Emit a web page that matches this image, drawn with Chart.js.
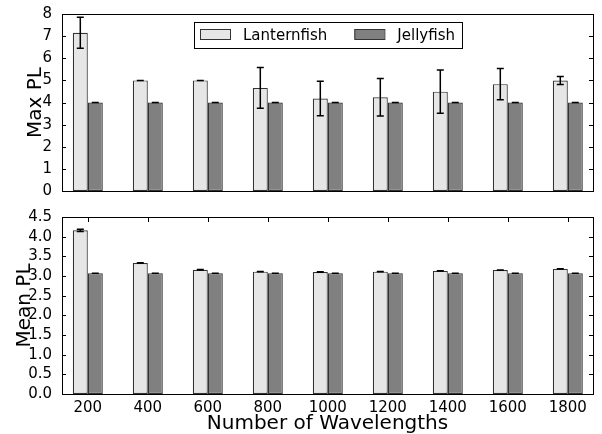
<!DOCTYPE html>
<html>
<head>
<meta charset="utf-8">
<script src="https://cdn.jsdelivr.net/npm/chart.js@4.4.0/dist/chart.umd.min.js"></script>
<style>
    html, body { margin: 0; padding: 0; background: #fff; }
    #topBox { position: absolute; left: 0; top: 0; width: 602px; height: 200px; }
    #bottomBox { position: absolute; left: 0; top: 200px; width: 602px; height: 234px; }
</style>
</head>
<body>
<div id="topBox"><canvas id="maxChart" width="602" height="200"></canvas></div>
<div id="bottomBox"><canvas id="meanChart" width="602" height="234"></canvas></div>
<script>
// data
const wavelengths = [200, 400, 600, 800, 1000, 1200, 1400, 1600, 1800]
const seriesNames = ['Lanternfish', 'Jellyfish']

const maxLantern = [7.15, 5.0, 5.0, 4.66, 4.18, 4.24, 4.49, 4.83, 4.99]
const maxLanternErr = [0.70, 0, 0, 0.92, 0.78, 0.85, 0.98, 0.71, 0.18]
const maxJelly = [4.0, 4.0, 4.0, 4.0, 4.0, 4.0, 4.0, 4.0, 4.0]
const maxJellyErr = [0, 0, 0, 0, 0, 0, 0, 0, 0]

const meanLantern = [4.16, 3.33, 3.16, 3.11, 3.10, 3.11, 3.13, 3.15, 3.18]
const meanLanternErr = [0.03, 0.005, 0.005, 0.005, 0.005, 0.005, 0.005, 0.005, 0.005]
const meanJelly = [3.07, 3.07, 3.07, 3.07, 3.07, 3.07, 3.07, 3.07, 3.07]
const meanJellyErr = [0, 0, 0, 0, 0, 0, 0, 0, 0]

const maxTicks = [0, 1, 2, 3, 4, 5, 6, 7, 8]
const meanTicks = [0, 0.5, 1.0, 1.5, 2.0, 2.5, 3.0, 3.5, 4.0, 4.5]

const colors = ['#e6e6e6', '#808080']

Chart.defaults.font.family = "'DejaVu Sans', sans-serif"
Chart.defaults.color = '#000'

function toPoints(values) {
    return values.map((v, i) => ({ x: i, y: v }))
}

function makeDatasets(lantern, lanternErr, jelly, jellyErr) {
    return [
        { label: seriesNames[0], data: toPoints(lantern), errors: lanternErr, backgroundColor: colors[0] },
        { label: seriesNames[1], data: toPoints(jelly), errors: jellyErr, backgroundColor: colors[1] }
    ].map(ds => Object.assign(ds, {
        borderColor: '#333',
        borderWidth: 1.2,
        borderSkipped: false,
        categoryPercentage: 0.5,
        barPercentage: 1.0
    }))
}

// error bars on top of the bars
const errorBars = {
    id: 'errorBars',
    afterDatasetsDraw(chart) {
        const ctx = chart.ctx
        const y = chart.scales.y
        ctx.save()
        ctx.strokeStyle = '#000'
        ctx.lineWidth = 1.5
        chart.data.datasets.forEach((ds, i) => {
            chart.getDatasetMeta(i).data.forEach((bar, j) => {
                const v = ds.data[j].y
                const e = ds.errors[j]
                const top = y.getPixelForValue(v + e)
                const bot = y.getPixelForValue(v - e)
                ctx.beginPath()
                ctx.moveTo(bar.x, top)
                ctx.lineTo(bar.x, bot)
                ctx.moveTo(bar.x - 3.5, top)
                ctx.lineTo(bar.x + 3.5, top)
                ctx.moveTo(bar.x - 3.5, bot)
                ctx.lineTo(bar.x + 3.5, bot)
                ctx.stroke()
            })
        })
        ctx.restore()
    }
}

// matplotlib like frame with inward ticks
const frame = {
    id: 'frame',
    afterDraw(chart, args, opts) {
        const ctx = chart.ctx
        const a = chart.chartArea
        ctx.save()
        ctx.strokeStyle = '#000'
        ctx.lineWidth = 1
        ctx.strokeRect(Math.round(a.left) + 0.5, Math.round(a.top) + 0.5,
            Math.round(a.right - a.left), Math.round(a.bottom - a.top))
        ctx.beginPath()
        chart.scales.y.ticks.forEach(t => {
            const py = Math.round(chart.scales.y.getPixelForValue(t.value)) + 0.5
            ctx.moveTo(a.left, py)
            ctx.lineTo(a.left + 4, py)
            ctx.moveTo(a.right, py)
            ctx.lineTo(a.right - 4, py)
        })
        if (opts.topTicks) {
            chart.scales.x.ticks.forEach(t => {
                const px = Math.round(chart.scales.x.getPixelForValue(t.value)) + 0.5
                ctx.moveTo(px, a.top)
                ctx.lineTo(px, a.top + 5)
            })
        }
        ctx.stroke()
        ctx.restore()
    }
}

// legend box inside the top axes
const boxLegend = {
    id: 'boxLegend',
    afterDraw(chart, args, opts) {
        if (!opts.show) return
        const ctx = chart.ctx
        ctx.save()
        ctx.font = "15px 'DejaVu Sans'"
        ctx.textBaseline = 'alphabetic'
        const left = 194, top = 22, h = 26
        let x = left + 6
        const items = chart.data.datasets.map((ds, i) => {
            const item = { x: x, label: ds.label, color: ds.backgroundColor }
            x += 30 + 13 + ctx.measureText(ds.label).width + 27
            return item
        })
        const right = x - 27 + 7
        ctx.fillStyle = '#fff'
        ctx.fillRect(left, top, right - left, h)
        ctx.strokeStyle = '#000'
        ctx.lineWidth = 1
        ctx.strokeRect(left + 0.5, top + 0.5, right - left, h)
        items.forEach(it => {
            ctx.fillStyle = it.color
            ctx.fillRect(it.x, top + 7, 30, 10)
            ctx.strokeStyle = '#333'
            ctx.strokeRect(it.x + 0.5, top + 7.5, 30, 10)
            ctx.fillStyle = '#000'
            ctx.fillText(it.label, it.x + 43, top + 18)
        })
        ctx.restore()
    }
}

function buildOptions(cfg) {
    return {
        responsive: false,
        animation: false,
        layout: { padding: cfg.padding },
        plugins: {
            legend: { display: false },
            tooltip: { enabled: false },
            frame: { topTicks: cfg.showX },
            boxLegend: { show: cfg.legend }
        },
        scales: {
            x: {
                type: 'linear',
                offset: false,
                display: cfg.showX,
                min: -0.43,
                max: 8.42,
                grid: { display: false },
                border: { display: false },
                afterBuildTicks: (scale) => {
                    scale.ticks = wavelengths.map((w, i) => ({ value: i }))
                },
                afterFit: (scale) => {
                    scale.height = cfg.showX ? 40 : 0
                    scale.paddingLeft = 0
                    scale.paddingRight = 0
                },
                ticks: {
                    padding: -3,
                    autoSkip: false,
                    maxRotation: 0,
                    font: { size: 15 },
                    callback: (v) => wavelengths[v]
                },
                title: {
                    display: true,
                    text: 'Number of Wavelengths',
                    font: { size: 20, lineHeight: 1 },
                    padding: { top: 0, bottom: 0 }
                }
            },
            y: {
                min: cfg.ticks[0],
                max: cfg.ticks[cfg.ticks.length - 1],
                grid: { display: false },
                border: { display: false },
                afterBuildTicks: (scale) => {
                    scale.ticks = cfg.ticks.map(v => ({ value: v }))
                },
                afterFit: (scale) => {
                    scale.width = 62
                    scale.paddingTop = 0
                    scale.paddingBottom = 0
                },
                ticks: {
                    padding: 2,
                    autoSkip: false,
                    font: { size: 15 },
                    callback: cfg.tickFormat
                },
                title: {
                    display: true,
                    text: cfg.yTitle,
                    font: { size: 20, lineHeight: 1 },
                    padding: { top: cfg.titlePad, bottom: 0 }
                }
            }
        }
    }
}

new Chart(document.getElementById('maxChart'), {
    type: 'bar',
    data: { datasets: makeDatasets(maxLantern, maxLanternErr, maxJelly, maxJellyErr) },
    options: buildOptions({
        padding: { left: 0, right: 9, top: 14, bottom: 9 },
        showX: false,
        legend: true,
        ticks: maxTicks,
        tickFormat: (v) => String(v),
        yTitle: 'Max PL',
        titlePad: 26
    }),
    plugins: [errorBars, frame, boxLegend]
})

new Chart(document.getElementById('meanChart'), {
    type: 'bar',
    data: { datasets: makeDatasets(meanLantern, meanLanternErr, meanJelly, meanJellyErr) },
    options: buildOptions({
        padding: { left: 0, right: 9, top: 17, bottom: 0 },
        showX: true,
        legend: false,
        ticks: meanTicks,
        tickFormat: (v) => v.toFixed(1),
        yTitle: 'Mean PL',
        titlePad: 15
    }),
    plugins: [errorBars, frame, boxLegend]
})
</script>
</body>
</html>
